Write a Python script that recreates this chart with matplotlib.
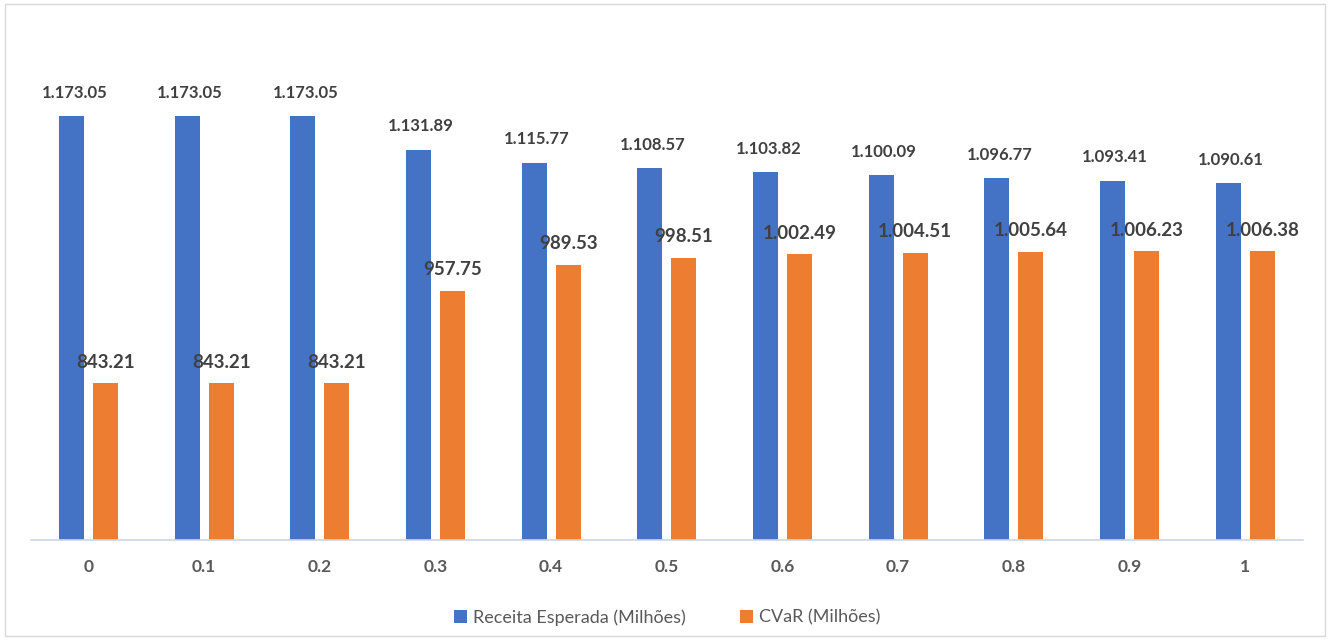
import matplotlib.pyplot as plt
from matplotlib.patches import Rectangle
import numpy as np

plt.rcParams['font.family'] = ['Lato', 'DejaVu Sans']

categorias = ["0", "0.1", "0.2", "0.3", "0.4", "0.5", "0.6", "0.7", "0.8", "0.9", "1"]
receita = [1173.05, 1173.05, 1173.05, 1131.89, 1115.77, 1108.57, 1103.82, 1100.09, 1096.77, 1093.41, 1090.61]
cvar = [843.21, 843.21, 843.21, 957.75, 989.53, 998.51, 1002.49, 1004.51, 1005.64, 1006.23, 1006.38]
rotulos_receita = ["1.173.05", "1.173.05", "1.173.05", "1.131.89", "1.115.77", "1.108.57",
                   "1.103.82", "1.100.09", "1.096.77", "1.093.41", "1.090.61"]
rotulos_cvar = ["843.21", "843.21", "843.21", "957.75", "989.53", "998.51",
                "1.002.49", "1.004.51", "1.005.64", "1.006.23", "1.006.38"]

azul = "#4472C4"
laranja = "#ED7D31"
texto = "#404040"

fig = plt.figure(figsize=(13.33, 6.44), dpi=100)
# moldura do grafico
fig.patches.append(Rectangle((0.004, 0.012), 0.99, 0.982, transform=fig.transFigure,
                             fill=False, edgecolor="#D9D9D9", linewidth=1.0))

ax = fig.add_axes([0.023, 0.1615, 0.9545, 0.79])
x = np.arange(len(categorias))
w = 0.215
off = 0.147
ax.bar(x - off, receita, w, color=azul, label="Receita Esperada (Milhões)")
ax.bar(x + off, cvar, w, color=laranja, label="CVaR (Milhões)")

ax.set_xlim(-0.5, len(categorias) - 0.5)
ax.set_ylim(650, 1278)

for i in range(len(categorias)):
    ax.annotate(rotulos_receita[i], (x[i] - off, receita[i]), xytext=(2, 11),
                textcoords="offset points", ha="center", va="bottom",
                fontsize=12, fontweight="bold", color=texto)
    ax.annotate(rotulos_cvar[i], (x[i] + off, cvar[i]), xytext=(0, 9),
                textcoords="offset points", ha="center", va="bottom",
                fontsize=13.5, fontweight="bold", color=texto)

ax.set_xticks(x)
ax.set_xticklabels(categorias, fontsize=12.5, fontweight="bold", color="#595959")
ax.tick_params(axis="x", length=0, pad=14)
ax.set_yticks([])
for s in ["top", "right", "left"]:
    ax.spines[s].set_visible(False)
ax.spines["bottom"].set_color("#C9D7E6")
ax.spines["bottom"].set_linewidth(1.2)

ax.legend(loc="center", bbox_to_anchor=(0.5, -0.152), ncol=2, frameon=False,
          fontsize=13, labelcolor="#595959", handlelength=0.75, handleheight=0.75,
          handletextpad=0.3, columnspacing=3.0)

fig.savefig("out.png", dpi=100)
